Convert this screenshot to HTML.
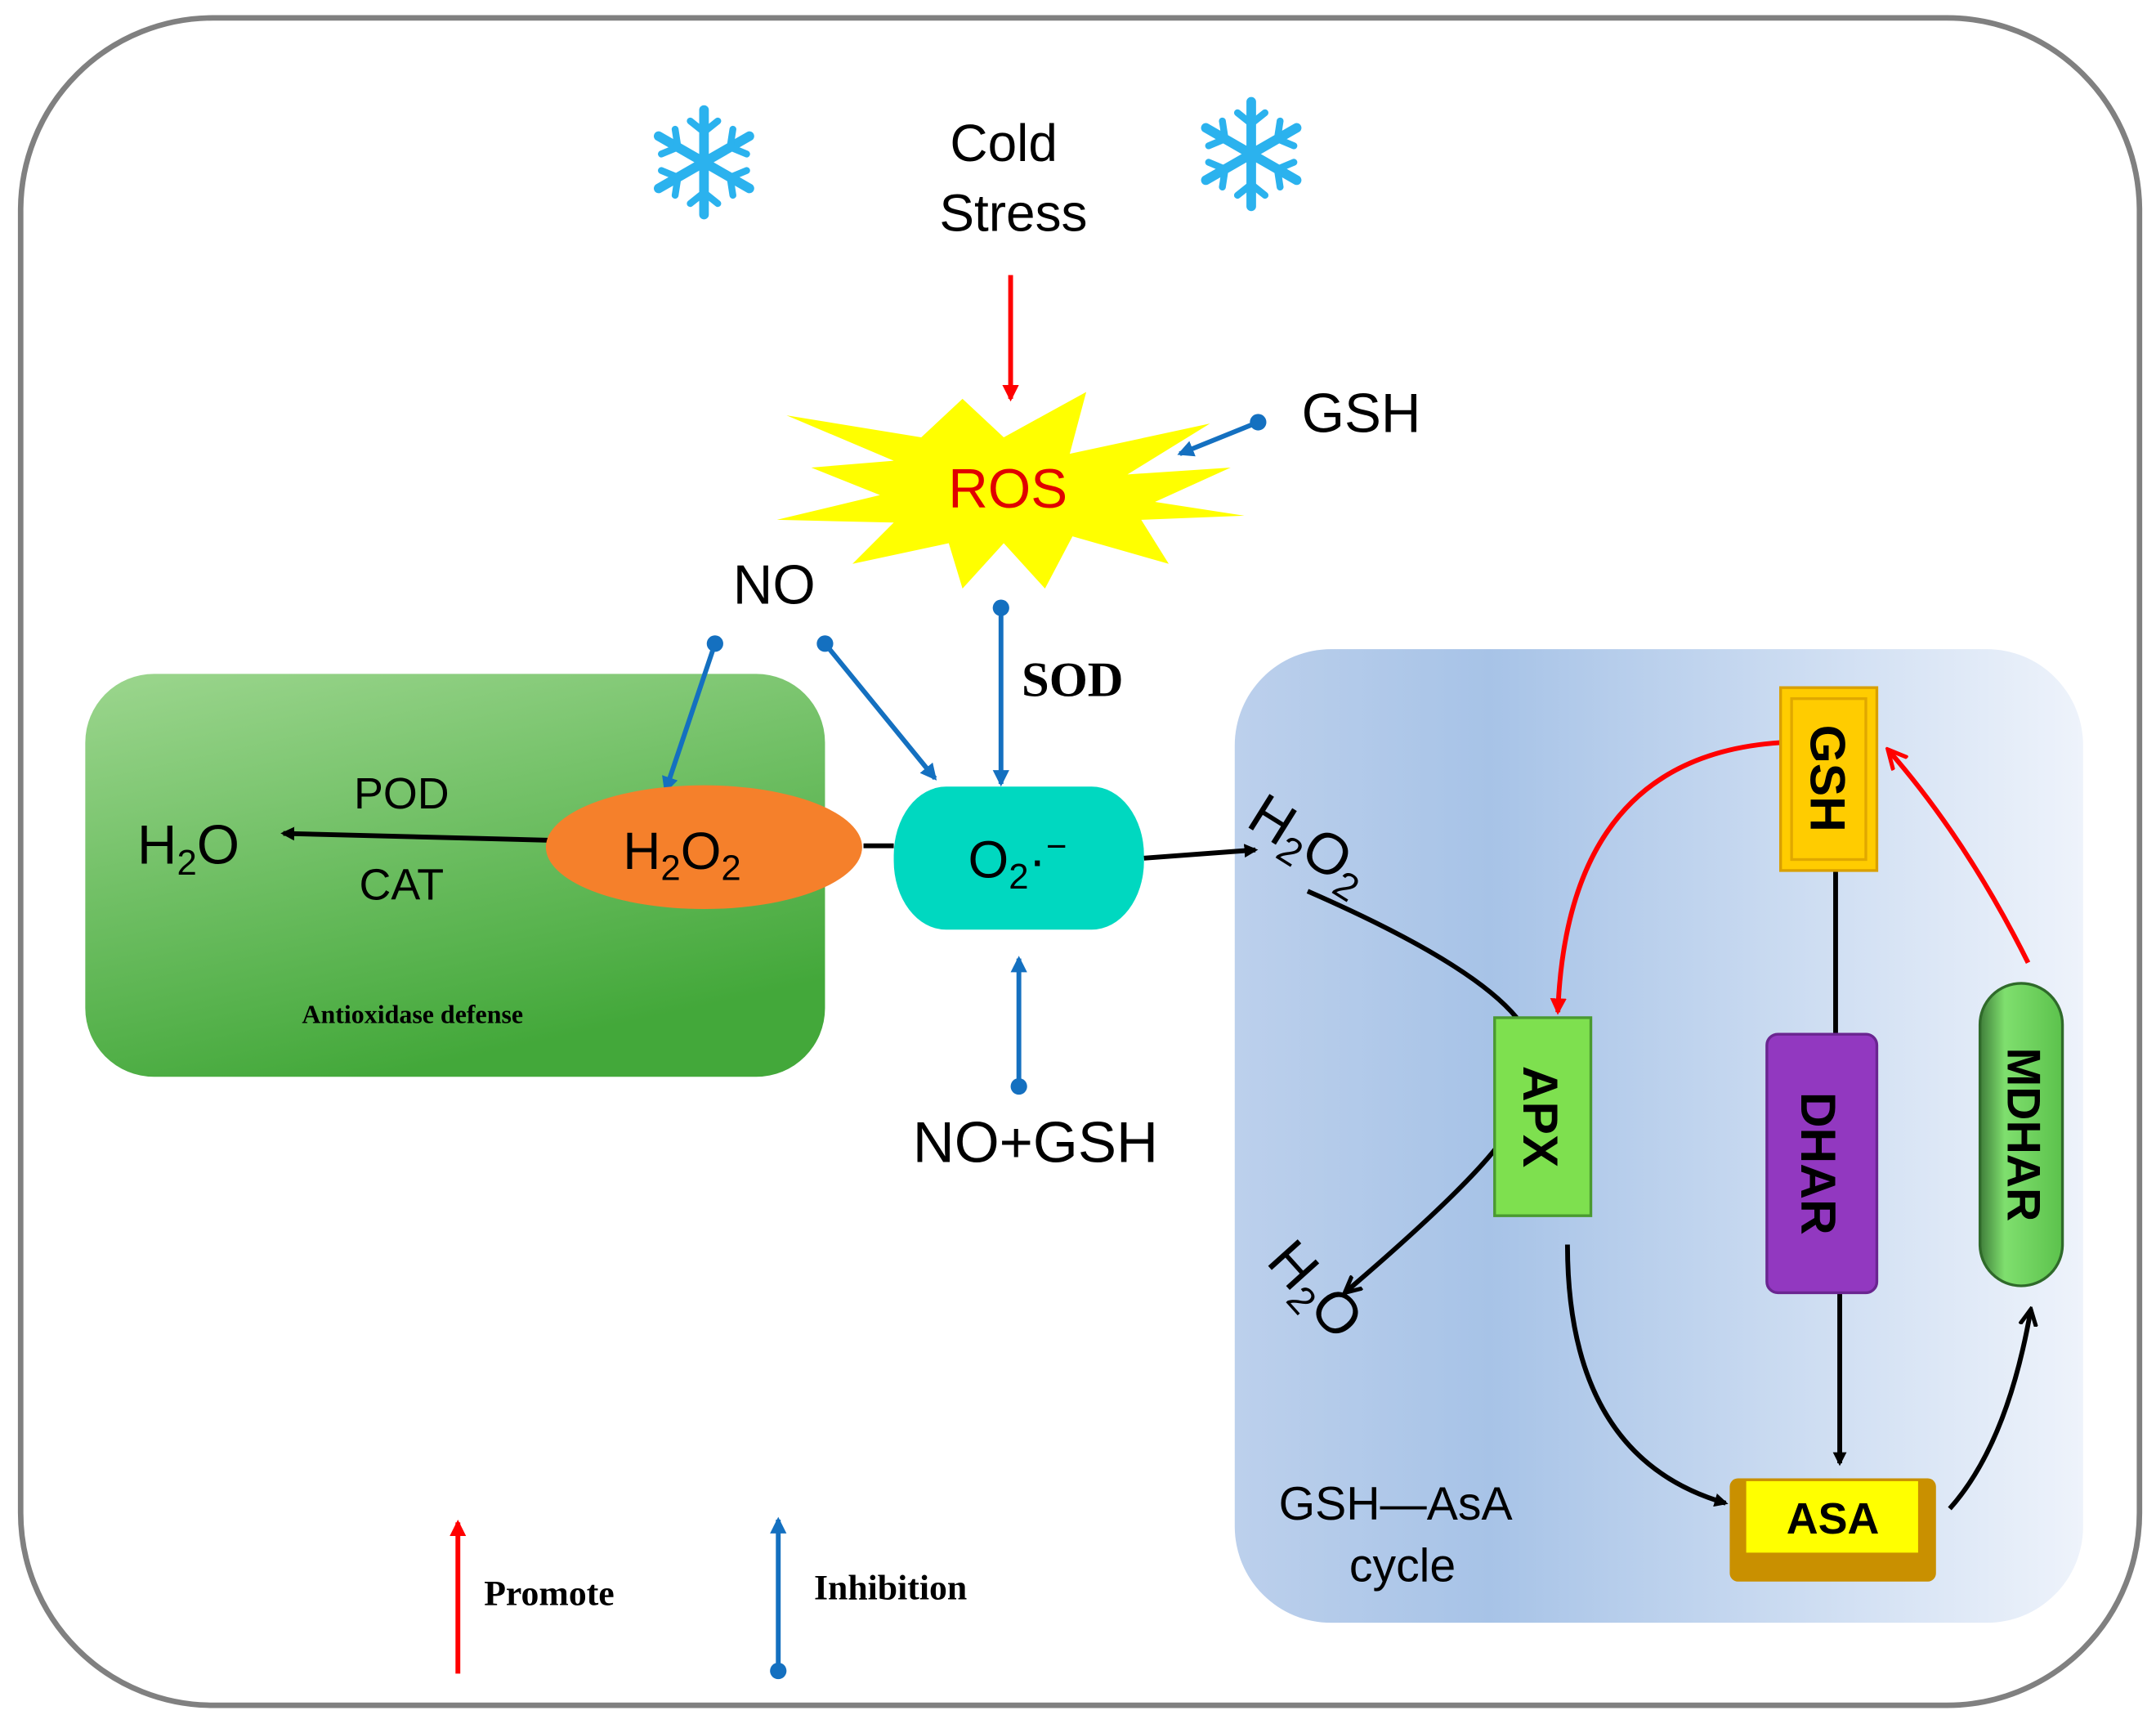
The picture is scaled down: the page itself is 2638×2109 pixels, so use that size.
<!DOCTYPE html>
<html><head><meta charset="utf-8"><style>html,body{margin:0;padding:0;background:#fff}svg{display:block}</style></head>
<body>
<svg width="2638" height="2109" viewBox="0 0 1568 1253.6" xmlns="http://www.w3.org/2000/svg" font-family="Liberation Sans, sans-serif">
<defs>
<linearGradient id="gg" x1="0" y1="0" x2="0.4" y2="1"><stop offset="0" stop-color="#9cd68e"/><stop offset="1" stop-color="#43a83a"/></linearGradient>
<linearGradient id="bg" x1="0" y1="0" x2="1" y2="0"><stop offset="0" stop-color="#bcd0ec"/><stop offset="0.3" stop-color="#a7c3e7"/><stop offset="1" stop-color="#eef3fb"/></linearGradient>
<linearGradient id="mg" x1="0" y1="0" x2="1" y2="0"><stop offset="0" stop-color="#3f7e3a"/><stop offset="0.3" stop-color="#7fdf6e"/><stop offset="1" stop-color="#5cc24c"/></linearGradient>
<marker id="ak" markerWidth="10" markerHeight="10" refX="8" refY="5" orient="auto" markerUnits="userSpaceOnUse"><path d="M0,0 L10,5 L0,10 z" fill="#000"/></marker>
<marker id="ao" markerWidth="14" markerHeight="14" refX="12" refY="7" orient="auto" markerUnits="userSpaceOnUse"><path d="M0,1 L12,7 L0,13" fill="none" stroke="#000" stroke-width="3"/></marker>
<marker id="ar" markerWidth="12" markerHeight="12" refX="10" refY="6" orient="auto" markerUnits="userSpaceOnUse"><path d="M0,0 L12,6 L0,12 z" fill="#f00"/></marker>
<marker id="aro" markerWidth="16" markerHeight="16" refX="14" refY="8" orient="auto" markerUnits="userSpaceOnUse"><path d="M0,1 L14,8 L0,15" fill="none" stroke="#f00" stroke-width="3"/></marker>
<marker id="ab" markerWidth="12" markerHeight="12" refX="10" refY="6" orient="auto" markerUnits="userSpaceOnUse"><path d="M0,0 L12,6 L0,12 z" fill="#1470c0"/></marker>
<g id="snow" stroke="#2bb2ee" stroke-width="7" stroke-linecap="round" fill="none">
<path d="M0,-38 V38 M-33,-19 L33,19 M-33,19 L33,-19"/>
<path d="M-10,-30 L0,-22 L10,-30 M-10,30 L0,22 L10,30 M-31,-6 L-19,-11 L-21,-24 M31,6 L19,11 L21,24 M-31,6 L-19,11 L-21,24 M31,-6 L19,-11 L21,-24" stroke-width="5"/>
</g>
</defs>
<rect x="15" y="13" width="1541" height="1227" rx="140" fill="#fff" stroke="#808080" stroke-width="4"/>
<use href="#snow" x="512" y="118"/><use href="#snow" x="910" y="112"/>
<text x="730" y="117" font-size="38" text-anchor="middle">Cold</text>
<text x="737" y="168" font-size="38" text-anchor="middle">Stress</text>
<line x1="735" y1="200" x2="735" y2="290" stroke="#f00" stroke-width="3.5" marker-end="url(#ar)"/>
<polygon fill="#ffff00" points="572,302 670,318 700,290 730,318 790,285 778,330 880,308 820,345 895,340 840,365 905,375 830,378 850,410 780,390 760,428 730,395 700,428 690,395 620,410 650,380 565,378 640,360 590,340 650,335" />
<text x="733" y="369" font-size="40" fill="#e00000" text-anchor="middle">ROS</text>
<text x="990" y="314" font-size="40" text-anchor="middle">GSH</text>
<line x1="915" y1="307" x2="858" y2="330" stroke="#1470c0" stroke-width="3.5" marker-end="url(#ab)"/><circle cx="915" cy="307" r="6" fill="#1470c0"/>
<text x="563" y="439" font-size="40" text-anchor="middle">NO</text>
<rect x="62" y="490" width="538" height="293" rx="50" fill="url(#gg)"/>
<line x1="520" y1="468" x2="484" y2="575" stroke="#1470c0" stroke-width="3.5" marker-end="url(#ab)"/><circle cx="520" cy="468" r="6" fill="#1470c0"/>
<line x1="600" y1="468" x2="680" y2="566" stroke="#1470c0" stroke-width="3.5" marker-end="url(#ab)"/><circle cx="600" cy="468" r="6" fill="#1470c0"/>
<line x1="728" y1="442" x2="728" y2="570" stroke="#1470c0" stroke-width="3.5" marker-end="url(#ab)"/><circle cx="728" cy="442" r="6" fill="#1470c0"/>
<text x="780" y="506" font-size="36" font-weight="bold" font-family="Liberation Serif, serif" text-anchor="middle">SOD</text>
<text x="137" y="628" font-size="40" text-anchor="middle">H<tspan font-size="26" dy="8">2</tspan><tspan dy="-8">O</tspan></text>
<text x="292" y="588" font-size="32" text-anchor="middle">POD</text>
<text x="292" y="654" font-size="32" text-anchor="middle">CAT</text>
<line x1="400" y1="611" x2="206" y2="606" stroke="#000" stroke-width="3.5" marker-end="url(#ak)"/>
<ellipse cx="512" cy="616" rx="115" ry="45" fill="#f5802b"/>
<text x="496" y="632" font-size="38" text-anchor="middle">H<tspan font-size="26" dy="8">2</tspan><tspan dy="-8">O</tspan><tspan font-size="26" dy="8">2</tspan></text>
<line x1="628" y1="615" x2="650" y2="615" stroke="#000" stroke-width="3.5"/>
<rect x="650" y="572" width="182" height="104" rx="38" ry="50" fill="#00d8c0"/>
<text x="740" y="638" font-size="38" text-anchor="middle">O<tspan font-size="26" dy="8">2</tspan><tspan dy="-8">·</tspan><tspan font-size="26" dy="-14">−</tspan></text>
<text x="300" y="744" font-size="19" font-weight="bold" font-family="Liberation Serif, serif" text-anchor="middle">Antioxidase defense</text>
<line x1="741" y1="790" x2="741" y2="697" stroke="#1470c0" stroke-width="3.5" marker-end="url(#ab)"/><circle cx="741" cy="790" r="6" fill="#1470c0"/>
<text x="753" y="845" font-size="42" text-anchor="middle">NO+GSH</text>
<rect x="898" y="472" width="617" height="708" rx="70" fill="url(#bg)"/>
<line x1="832" y1="624" x2="913" y2="618" stroke="#000" stroke-width="3.5" marker-end="url(#ak)"/>
<text transform="translate(905,600) rotate(32)" font-size="42">H<tspan font-size="28" dy="8">2</tspan><tspan dy="-8">O</tspan><tspan font-size="28" dy="8">2</tspan></text>
<path d="M951,648 Q1070,700 1103,740" fill="none" stroke="#000" stroke-width="3.5"/>
<path d="M1295,540 Q1140,550 1133,736" fill="none" stroke="#f00" stroke-width="3.5" marker-end="url(#ar)"/>
<path d="M1475,700 Q1430,610 1373,545" fill="none" stroke="#f00" stroke-width="3.5" marker-end="url(#aro)"/>
<line x1="1335" y1="633" x2="1335" y2="752" stroke="#000" stroke-width="3.5"/>
<line x1="1338" y1="940" x2="1338" y2="1064" stroke="#000" stroke-width="3.5" marker-end="url(#ak)"/>
<path d="M1088,835 Q1060,870 978,940" fill="none" stroke="#000" stroke-width="3.5" marker-end="url(#ao)"/>
<path d="M1140,905 Q1140,1060 1255,1093" fill="none" stroke="#000" stroke-width="3.5" marker-end="url(#ak)"/>
<path d="M1418,1097 Q1460,1050 1477,952" fill="none" stroke="#000" stroke-width="3.5" marker-end="url(#ao)"/>
<text transform="translate(920,918) rotate(48)" font-size="42">H<tspan font-size="28" dy="8">2</tspan><tspan dy="-8">O</tspan></text>
<rect x="1087" y="740" width="70" height="144" fill="#7ee04f" stroke="#4a9a30" stroke-width="2"/>
<text transform="translate(1108,812) rotate(90)" font-size="36" font-weight="bold" text-anchor="middle">APX</text>
<rect x="1295" y="500" width="70" height="133" fill="#ffcc00" stroke="#d9a000" stroke-width="2"/>
<rect x="1303" y="508" width="54" height="117" fill="none" stroke="#e0a800" stroke-width="2"/>
<text transform="translate(1317,566) rotate(90)" font-size="36" font-weight="bold" text-anchor="middle">GSH</text>
<rect x="1285" y="752" width="80" height="188" rx="8" fill="#9238c0" stroke="#6a2590" stroke-width="2"/>
<text transform="translate(1310,846) rotate(90)" font-size="36" font-weight="bold" text-anchor="middle">DHAR</text>
<rect x="1440" y="715" width="60" height="220" rx="30" fill="url(#mg)" stroke="#2f6a2a" stroke-width="2"/>
<text transform="translate(1460,825) rotate(90)" font-size="34" font-weight="bold" text-anchor="middle">MDHAR</text>
<rect x="1258" y="1075" width="150" height="75" rx="6" fill="#c99000"/>
<rect x="1270" y="1077" width="125" height="52" fill="#ffff00"/>
<text x="1333" y="1115" font-size="32" font-weight="bold" text-anchor="middle">ASA</text>
<text x="1015" y="1105" font-size="34" text-anchor="middle">GSH—AsA</text>
<text x="1020" y="1150" font-size="34" text-anchor="middle">cycle</text>
<line x1="333" y1="1217" x2="333" y2="1107" stroke="#f00" stroke-width="3.5" marker-end="url(#ar)"/>
<text x="352" y="1167" font-size="26" font-weight="bold" font-family="Liberation Serif, serif">Promote</text>
<line x1="566" y1="1215" x2="566" y2="1105" stroke="#1470c0" stroke-width="3.5" marker-end="url(#ab)"/><circle cx="566" cy="1215" r="6" fill="#1470c0"/>
<text x="592" y="1163" font-size="26" font-weight="bold" font-family="Liberation Serif, serif">Inhibition</text>
</svg>
</body></html>
